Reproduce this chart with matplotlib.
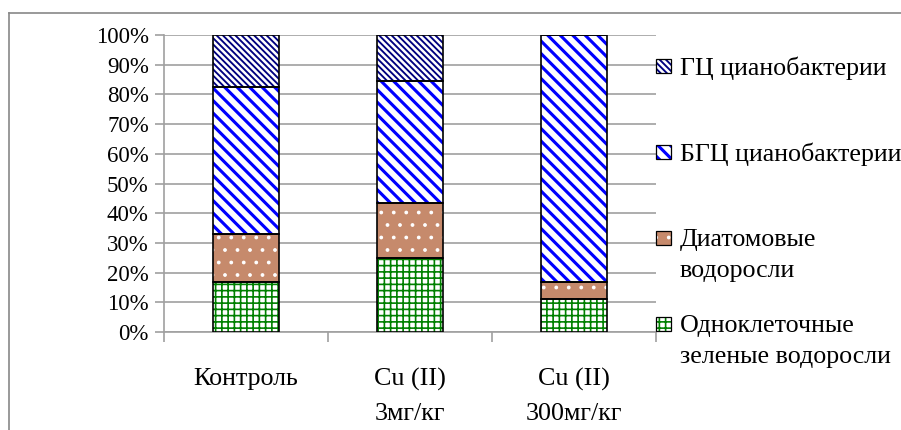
import matplotlib.pyplot as plt
from matplotlib.patches import Rectangle
from matplotlib.lines import Line2D
import numpy as np

SERIF = 'Liberation Serif'
plt.rcParams['font.family'] = SERIF

categories = ['Контроль', 'Cu (II)\n3мг/кг', 'Cu (II)\n300мг/кг']
series = ['Одноклеточные\nзеленые водоросли', 'Диатомовые\nводоросли',
          'БГЦ цианобактерии', 'ГЦ цианобактерии']
green = [17, 25, 11]
diatom = [16, 18.5, 6]
bgc = [49.5, 41, 83]
gc = [17.5, 15.5, 0]
values = [green, diatom, bgc, gc]

# face colour, hatch colour, hatch, hatch linewidth
styles = [('white', '#008000', '++++', 0.8),
          ('#c68a6c', 'white', '..', 0.6),
          ('white', '#0000ff', '\\' * 4, 1.5),
          ('white', '#000080', '\\' * 8, 0.9)]

W, H, DPI = 901, 430, 150
fig = plt.figure(figsize=(W / DPI, H / DPI), dpi=DPI)
ax = fig.add_axes([164 / W, 98 / H, (656 - 164) / W, (332 - 35) / H])


def hatched(patch, st):
    face, hc, hatch, hlw = st
    patch.set_facecolor(face)
    patch.set_edgecolor(hc)
    patch.set_hatch(hatch)
    patch.set_linewidth(0)
    if hasattr(patch, 'set_hatch_linewidth'):
        patch.set_hatch_linewidth(hlw)


x = np.arange(len(categories))
bottom = np.zeros(len(categories))
for vals, st in zip(values, styles):
    bars = ax.bar(x, vals, 0.4, bottom=bottom, zorder=3)
    for b in bars:
        hatched(b, st)
    ax.bar(x, vals, 0.4, bottom=bottom, fill=False, edgecolor='black',
           linewidth=0.8, zorder=4)
    bottom += np.array(vals)

ax.set_xlim(-0.5, 2.5)
ax.set_ylim(0, 100)
ax.set_yticks(np.arange(0, 101, 10))
ax.set_yticklabels([f'{v}%' for v in range(0, 101, 10)], fontsize=11,
                   family=SERIF)
ax.set_xticks([-0.5, 0.5, 1.5, 2.5])
ax.set_xticklabels([])
ax.tick_params(axis='x', length=4.8, color='#a0a0a0', width=0.8)
ax.tick_params(axis='y', length=4.3, color='#a0a0a0', width=0.8, pad=3)
ax.grid(axis='y', color='#a0a0a0', linewidth=0.8, zorder=0)
for s in ['top', 'right']:
    ax.spines[s].set_visible(False)
for s in ['left', 'bottom']:
    ax.spines[s].set_color('#a0a0a0')
    ax.spines[s].set_linewidth(0.8)
ax.spines['left'].set_bounds(0, 100)

# category names under the bars
for xi, name in zip(x, categories):
    ax.text(xi, -(368 - 332) / 297, name, transform=ax.get_xaxis_transform(),
            ha='center', va='top', fontsize=12.5, linespacing=1.72,
            family=SERIF)

# legend, drawn by hand (marker beside the first line of each label)
leg_y = [324, 238, 152, 66]
for name, st, yc in zip(series, styles, leg_y):
    r = Rectangle((656 / W, 1 - (yc + 7) / H), 15 / W, 14 / H,
                  transform=fig.transFigure)
    hatched(r, st)
    fig.add_artist(r)
    fig.add_artist(Rectangle((656 / W, 1 - (yc + 7) / H), 15 / W, 14 / H,
                             transform=fig.transFigure, fill=False,
                             edgecolor='black', linewidth=0.6))
    fig.text(680 / W, 1 - (yc - 9) / H, name, fontsize=12.5, va='top',
             ha='left', linespacing=1.5, family=SERIF)

# outer chart frame
fig.add_artist(Line2D([9 / W, 1], [1 - 13 / H] * 2, color='#888888', lw=0.8))
fig.add_artist(Line2D([9 / W] * 2, [0, 1 - 13 / H], color='#888888', lw=0.8))

fig.savefig('out.png', dpi=DPI)
